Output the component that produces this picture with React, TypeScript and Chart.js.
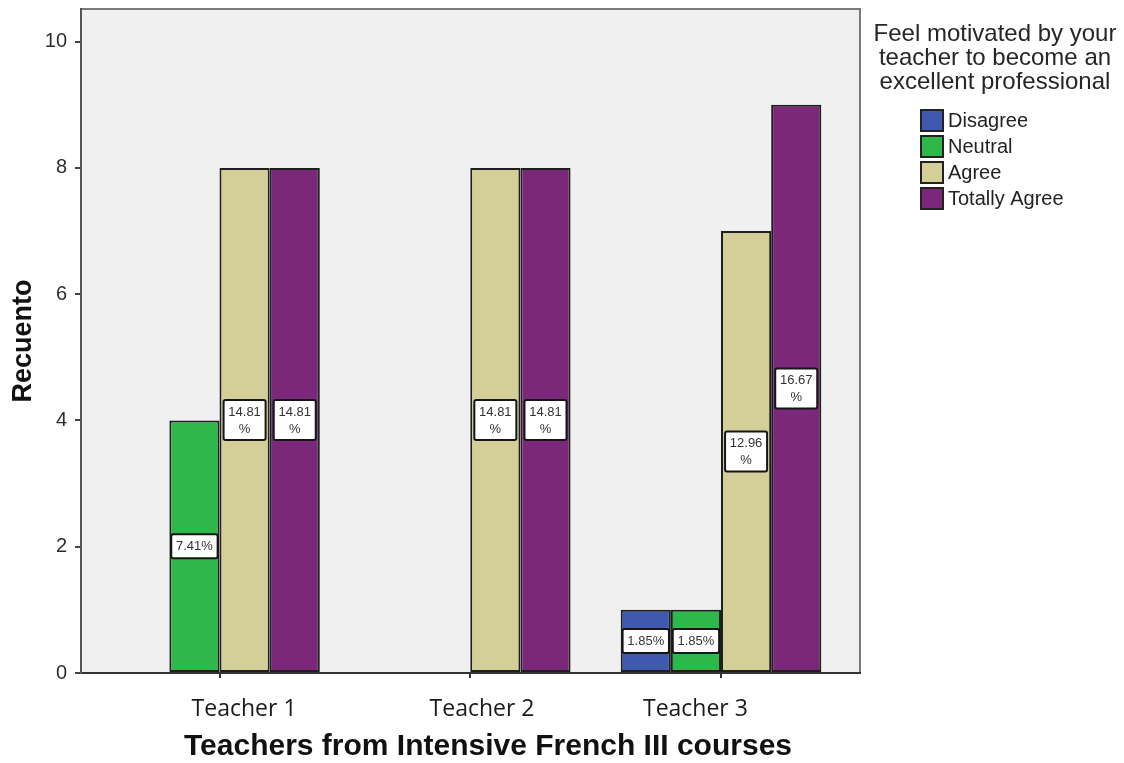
import React, { useEffect, useRef } from 'react';
import { Chart, registerables } from 'chart.js';

Chart.register(...registerables);

// ---- data ----
const categories = ['Teacher 1', 'Teacher 2', 'Teacher 3'];
const seriesNames = ['Disagree', 'Neutral', 'Agree', 'Totally Agree'];
const disagreeCounts = [0, 0, 1];
const neutralCounts = [4, 0, 1];
const agreeCounts = [8, 8, 7];
const totallyAgreeCounts = [8, 8, 9];
const seriesColors = ['#3E59AD', '#2EB84A', '#D4CF98', '#7B287A'];
const yTickValues = [0, 2, 4, 6, 8, 10];
const legendTitleLines = ['Feel motivated by your', 'teacher to become an', 'excellent professional'];
const yTitle = 'Recuento';
const xTitle = 'Teachers from Intensive French III courses';
// where SPSS places the category names along the axis (axis units)
const categoryLabelPositions = [0.098, 1.047, 1.898];

const seriesCounts = [disagreeCounts, neutralCounts, agreeCounts, totallyAgreeCounts];

const FONT = '"Liberation Sans", Arial, sans-serif';

export default function App() {
  const ref = useRef<HTMLCanvasElement>(null);

  useEffect(() => {
    const canvas = ref.current;
    if (!canvas) return;

    const total = seriesCounts.reduce((s, arr) => s + arr.reduce((a, b) => a + b, 0), 0);

    const datasets = seriesNames.map((name, si) => ({
      label: name,
      data: seriesCounts[si].map((v, i) => ({ x: i, y: v === 0 ? null : v })),
      backgroundColor: seriesColors[si],
      borderColor: '#1e1e1e',
      borderWidth: 2,
      borderSkipped: false as const,
      categoryPercentage: 0.8,
      barPercentage: 1.0,
    }));

    const backgroundPlugin = {
      id: 'plotBackground',
      beforeDraw(chart: any) {
        const { ctx, chartArea: a } = chart;
        ctx.save();
        ctx.fillStyle = '#F0F0F0';
        ctx.fillRect(a.left, a.top, a.right - a.left, a.bottom - a.top);
        ctx.strokeStyle = '#7a7a7a';
        ctx.lineWidth = 2;
        ctx.beginPath();
        ctx.moveTo(a.left, a.top);
        ctx.lineTo(a.right, a.top);
        ctx.lineTo(a.right, a.bottom);
        ctx.stroke();
        ctx.restore();
      },
    };

    const percentLabelPlugin = {
      id: 'percentLabels',
      afterDatasetsDraw(chart: any) {
        const { ctx } = chart;
        ctx.save();
        ctx.font = `13px ${FONT}`;
        ctx.textAlign = 'center';
        ctx.textBaseline = 'middle';
        chart.data.datasets.forEach((ds: any, di: number) => {
          const meta = chart.getDatasetMeta(di);
          meta.data.forEach((el: any, j: number) => {
            const raw = ds.data[j].y;
            if (raw === null || raw === undefined) return;
            const { x, y, base, width } = el.getProps(['x', 'y', 'base', 'width'], true);
            const mid = (y + base) / 2;
            const pct = ((raw / total) * 100).toFixed(2);
            const full = pct + '%';
            let lines = [full];
            if (ctx.measureText(full).width + 9.5 > width - 2) lines = [pct, '%'];
            const tw = Math.max(...lines.map((l) => ctx.measureText(l).width));
            const bw = Math.min(tw + 9.5, width - 3);
            const lh = 17;
            const bh = lines.length === 1 ? 24 : 40;
            ctx.fillStyle = '#ffffff';
            ctx.strokeStyle = '#151515';
            ctx.lineWidth = 2;
            ctx.beginPath();
            ctx.roundRect(x - bw / 2, mid - bh / 2, bw, bh, 2);
            ctx.fill();
            ctx.stroke();
            ctx.fillStyle = '#333';
            lines.forEach((l, k) => {
              const ly = mid + (k - (lines.length - 1) / 2) * lh;
              ctx.fillText(l, x, ly + 0.5);
            });
          });
        });
        ctx.restore();
      },
    };

    const legendPlugin = {
      id: 'sideLegend',
      afterDraw(chart: any) {
        const { ctx } = chart;
        ctx.save();
        ctx.fillStyle = '#262626';
        ctx.font = `24px ${FONT}`;
        ctx.textAlign = 'center';
        ctx.textBaseline = 'alphabetic';
        const titleBaselines = [41, 65, 89];
        legendTitleLines.forEach((l, i) => ctx.fillText(l, 995, titleBaselines[i]));
        ctx.font = `20px ${FONT}`;
        ctx.textAlign = 'left';
        ctx.textBaseline = 'middle';
        chart.data.datasets.forEach((ds: any, i: number) => {
          const top = 110 + i * 26;
          ctx.fillStyle = ds.backgroundColor;
          ctx.fillRect(921, top, 22, 21);
          ctx.strokeStyle = '#222';
          ctx.lineWidth = 2;
          ctx.strokeRect(921, top, 22, 21);
          ctx.fillStyle = '#222';
          ctx.fillText(ds.label, 948, top + 11.5);
        });
        ctx.restore();
      },
    };

    const xTitlePlugin = {
      id: 'xTitle',
      afterDraw(chart: any) {
        const { ctx, chartArea: a } = chart;
        ctx.save();
        ctx.font = `bold 30px ${FONT}`;
        ctx.fillStyle = '#111';
        ctx.textAlign = 'center';
        ctx.textBaseline = 'middle';
        ctx.fillText(xTitle, (a.left + a.right) / 2 + 17.5, 747);
        ctx.restore();
      },
    };

    const chart = new Chart(canvas, {
      type: 'bar',
      data: { datasets: datasets as any },
      options: {
        responsive: false,
        animation: false,
        events: [],
        layout: { padding: { left: 0, right: 264, top: 9, bottom: 0 } },
        plugins: {
          legend: { display: false },
          tooltip: { enabled: false },
          title: { display: false },
        },
        scales: {
          x: {
            type: 'linear',
            position: 'bottom',
            offset: false,
            weight: 0,
            min: -0.5524,
            max: 2.5543,
            afterBuildTicks: (scale: any) => {
              scale.ticks = categories.map((_, i) => ({ value: i }));
            },
            afterFit: (scale: any) => {
              scale.height = 6;
              scale.paddingLeft = 0;
              scale.paddingRight = 0;
            },
            ticks: { display: false },
            grid: {
              display: true,
              offset: false,
              drawOnChartArea: false,
              drawTicks: true,
              tickLength: 5,
              color: '#333',
              lineWidth: 2,
            },
            border: { display: true, color: '#333', width: 2 },
          },
          x2: {
            type: 'linear',
            position: 'bottom',
            offset: false,
            weight: 1,
            min: -0.5524,
            max: 2.5543,
            afterBuildTicks: (scale: any) => {
              scale.ticks = categoryLabelPositions.map((v) => ({ value: v }));
            },
            afterFit: (scale: any) => {
              scale.height = 84;
              scale.paddingLeft = 0;
              scale.paddingRight = 0;
            },
            ticks: {
              autoSkip: false,
              maxRotation: 0,
              padding: 17,
              color: '#1a1a1a',
              font: { family: '"Open Sans", sans-serif', size: 23, lineHeight: 1.2 },
              callback: (_v: any, index: number) => categories[index],
            },
            grid: { display: false, offset: false, drawTicks: false },
            border: { display: false },
          },
          y: {
            type: 'linear',
            min: 0,
            max: 10.518,
            afterBuildTicks: (scale: any) => {
              scale.ticks = yTickValues.map((v) => ({ value: v }));
            },
            afterFit: (scale: any) => {
              scale.width = 81;
              scale.paddingTop = 0;
              scale.paddingBottom = 0;
            },
            ticks: {
              padding: 8,
              color: '#2e2e2e',
              font: { family: FONT, size: 20 },
            },
            grid: {
              display: true,
              drawOnChartArea: false,
              drawTicks: true,
              tickLength: 6,
              color: '#444',
              lineWidth: 2,
            },
            border: { display: true, color: '#555', width: 2 },
            title: {
              display: true,
              text: yTitle,
              color: '#111',
              font: { family: FONT, size: 27, weight: 'bold', lineHeight: 1.2 },
              padding: { top: 7, bottom: 0 },
            },
          },
        },
      },
      plugins: [backgroundPlugin, percentLabelPlugin, legendPlugin, xTitlePlugin],
    });

    return () => chart.destroy();
  }, []);

  return (
    <div style={{ position: 'fixed', left: 0, top: 0, width: 1124, height: 763, background: '#ffffff' }}>
      <canvas ref={ref} width={1124} height={763} style={{ display: 'block' }} />
    </div>
  );
}
